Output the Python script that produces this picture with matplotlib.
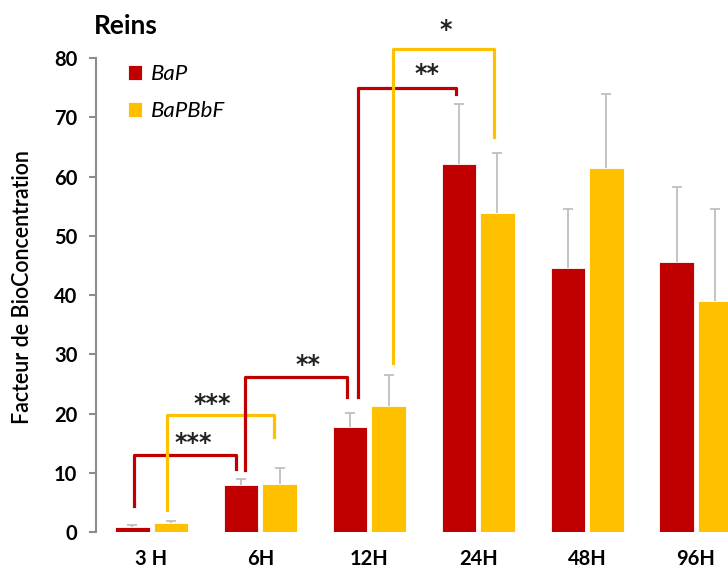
import numpy as np
import matplotlib
matplotlib.use("Agg")
import matplotlib.pyplot as plt

plt.rcParams['font.family'] = ['Lato', 'DejaVu Sans']

# data
times = ["3 H", "6H", "12H", "24H", "48H", "96H"]
bap = [0.9, 7.9, 17.7, 62.1, 44.5, 45.6]
bap_err = [0.3, 1.0, 2.4, 10.2, 10.1, 12.7]
bapbbf = [1.5, 8.1, 21.2, 53.9, 61.4, 39.0]
bapbbf_err = [0.3, 2.7, 5.3, 10.1, 12.6, 15.6]

# significance brackets: (x left, x right, y left foot, y top, y right foot, label, colour)
RED = "#C00000"
YEL = "#FFC000"
brackets = [
    (-0.16, 0.776, 4.4, 13.0, 10.6, "***", RED),
    (0.142, 1.125, 3.7, 19.7, 16.1, "***", YEL),
    (0.859, 1.795, 10.5, 26.1, 22.8, "**", RED),
    (1.894, 2.796, 22.8, 74.9, 73.9, "**", RED),
    (2.218, 3.145, 28.5, 81.5, 66.6, "*", YEL),
]
star_pos = [(0.38, 15.0), (0.56, 21.6), (1.44, 28.2), (2.53, 77.3), (2.70, 84.7)]

fig = plt.figure(figsize=(7.28, 5.70), dpi=100)
ax = fig.add_axes([96 / 728, 38 / 570, 632 / 728, 532 / 570])

x = np.arange(len(times))
w = 0.317
off = 0.177
b1 = ax.bar(x - off, bap, w, color=RED, edgecolor="white", linewidth=0.6, label="BaP", zorder=2)
b2 = ax.bar(x + off, bapbbf, w, color=YEL, edgecolor="white", linewidth=0.6, label="BaPBbF", zorder=2)

# only the upper half of each error bar is visible
for xs, m, e in [(x - off, bap, bap_err), (x + off, bapbbf, bapbbf_err)]:
    top = np.array(m) + np.array(e)
    ax.vlines(xs, m, top, color="#BFBFBF", lw=1.3, zorder=1)
    ax.plot(xs, top, ls="none", marker="_", ms=7.5, mew=1.3, color="#BFBFBF", zorder=1)

for (xl, xr, yl, yt, yr, lab, c), (sx, sy) in zip(brackets, star_pos):
    ax.plot([xl, xl, xr, xr], [yl, yt, yt, yr], color=c, lw=2.3,
            solid_joinstyle="round", zorder=3)
    ax.text(sx, sy, lab, ha="center", va="center", fontsize=17, color="#222222",
            family="DejaVu Sans", fontweight="bold")

ax.set_xlim(-0.51, 5.294)
ax.set_ylim(0, 89.8)
ax.set_yticks(np.arange(0, 81, 10))
ax.set_xticks(x)
ax.set_xticklabels(times, fontweight="bold", fontsize=14.5)
for lbl in ax.get_yticklabels():
    lbl.set_fontweight("bold")
    lbl.set_fontsize(14.5)

for s in ["top", "right", "bottom"]:
    ax.spines[s].set_visible(False)
ax.spines["left"].set_bounds(0, 80)
ax.spines["left"].set_color("#8C8C8C")
ax.spines["left"].set_linewidth(1.5)
ax.tick_params(axis="y", direction="out", length=5, width=1.5, color="#8C8C8C", pad=8.5)
ax.tick_params(axis="x", length=0, pad=12.5)

fig.text(23 / 728, 1 - 287.5 / 570, "Facteur de BioConcentration", rotation=90,
         ha="center", va="center", fontsize=15.5, fontweight="semibold")

fig.text(94 / 728, 1 - 26 / 570, "Reins", fontsize=19, fontweight="bold", va="center", ha="left")

leg = ax.legend(handles=[b1, b2], loc="upper left", bbox_to_anchor=(108 / 728, 1 - 44 / 570),
                bbox_transform=fig.transFigure, frameon=False, handlelength=0.65, handleheight=0.65,
                handletextpad=0.4, labelspacing=0.78, prop={"style": "italic", "size": 16})

plt.savefig("out.png", dpi=100)
